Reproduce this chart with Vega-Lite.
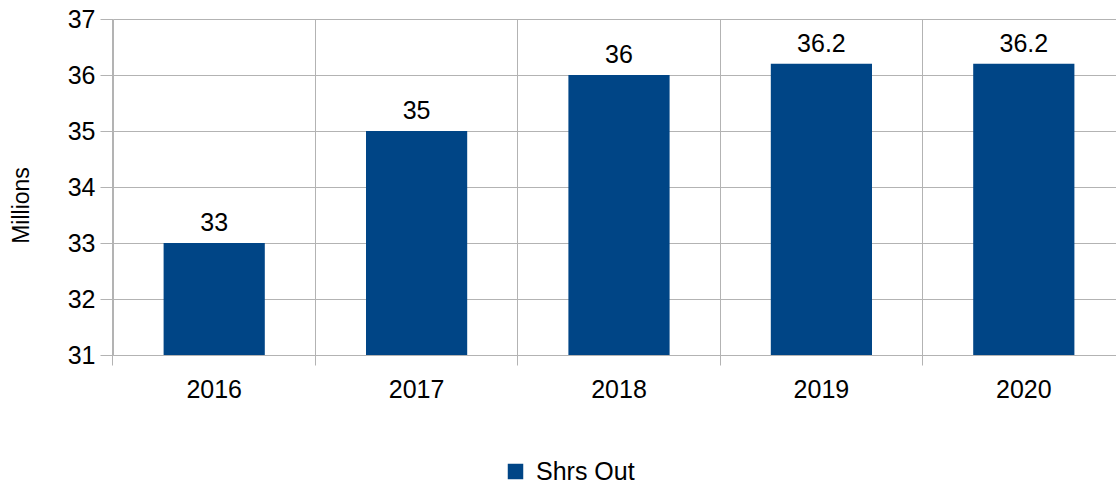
{
  "$schema": "https://vega.github.io/schema/vega-lite/v6.json",
  "width": 1012,
  "height": 336,
  "autosize": {"type": "none"},
  "padding": {"left": 113, "top": 19, "right": 0, "bottom": 129},
  "background": "white",
  "config": {
    "view": {"stroke": null},
    "font": "Liberation Sans",
    "axis": {"labelFont": "Liberation Sans", "titleFont": "Liberation Sans", "labelColor": "#000000", "titleColor": "#000000"}
  },
  "data": {
    "values": [
      {"year": "2016", "value": 33, "label": "33", "series": "Shrs Out"},
      {"year": "2017", "value": 35, "label": "35", "series": "Shrs Out"},
      {"year": "2018", "value": 36, "label": "36", "series": "Shrs Out"},
      {"year": "2019", "value": 36.2, "label": "36.2", "series": "Shrs Out"},
      {"year": "2020", "value": 36.2, "label": "36.2", "series": "Shrs Out"}
    ]
  },
  "encoding": {
    "x": {
      "field": "year",
      "type": "nominal",
      "scale": {"paddingInner": 0.5, "paddingOuter": 0.25},
      "axis": {
        "title": null,
        "labelAngle": 0,
        "labelFontSize": 25,
        "labelPadding": 12,
        "bandPosition": -0.5,
        "labelOffset": 0,
        "grid": true,
        "gridColor": "#b3b3b3",
        "gridWidth": 1,
        "domainColor": "#b3b3b3",
        "tickColor": "#b3b3b3",
        "tickSize": 10
      }
    },
    "y": {
      "field": "value",
      "type": "quantitative",
      "scale": {"domain": [31, 37], "nice": false, "zero": false},
      "axis": {
        "title": "Millions",
        "titleFontSize": 23,
        "titleFontWeight": "normal",
        "titlePadding": 34,
        "titleY": 186,
        "values": [31, 32, 33, 34, 35, 36, 37],
        "labelFontSize": 25,
        "labelPadding": 5,
        "tickSize": 13,
        "grid": true,
        "gridColor": "#b3b3b3",
        "domainColor": "#b3b3b3",
        "tickColor": "#b3b3b3"
      }
    }
  },
  "layer": [
    {
      "mark": {"type": "bar"},
      "encoding": {
        "y2": {"datum": 31},
        "color": {
          "field": "series",
          "type": "nominal",
          "scale": {"range": ["#004586"]},
          "legend": {
            "title": null,
            "orient": "none",
            "legendX": 390,
            "legendY": 440,
            "symbolType": "square",
            "symbolSize": 240,
            "symbolStrokeWidth": 0,
            "labelFontSize": 25,
            "labelFont": "Liberation Sans",
            "labelColor": "#000000",
            "labelOffset": 8,
            "labelLimit": 400
          }
        }
      }
    },
    {
      "mark": {"type": "text", "baseline": "alphabetic", "dy": -12, "fontSize": 25, "color": "#000000", "font": "Liberation Sans"},
      "encoding": {"text": {"field": "label"}}
    }
  ]
}
